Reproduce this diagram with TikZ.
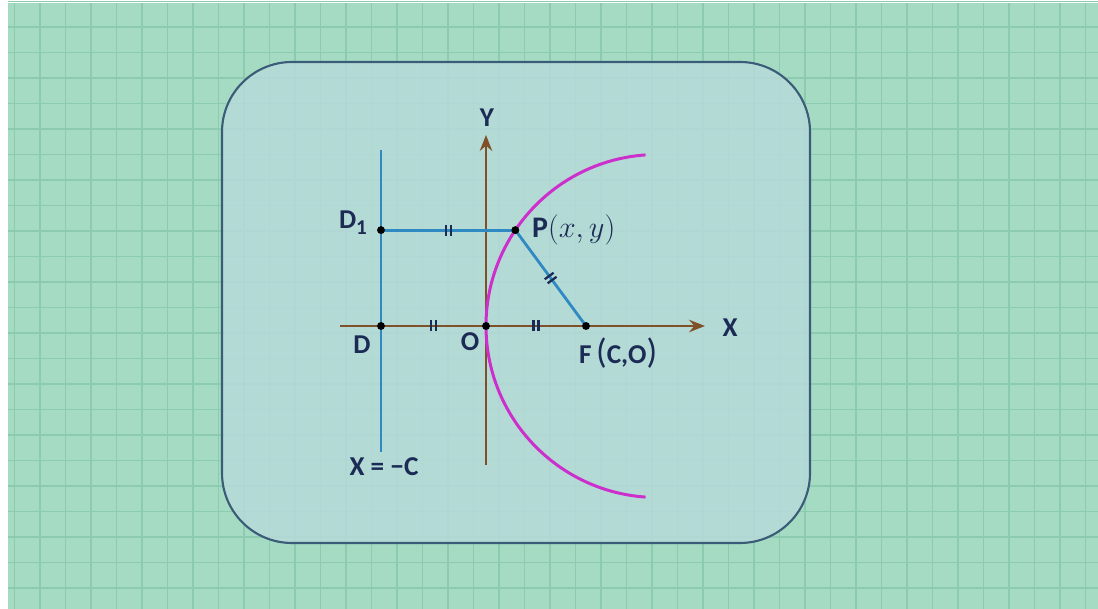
\documentclass[tikz,border=0pt]{standalone}
\usepackage{fontspec}
\setmainfont{Carlito}
\usetikzlibrary{arrows.meta,decorations.markings,calc}
\definecolor{bggreen}{HTML}{A5DAC3}
\definecolor{gridgreen}{HTML}{8CCBB0}
\definecolor{boxfill}{HTML}{B8DADB}
\definecolor{boxline}{HTML}{3A5C78}
\definecolor{axisbrown}{HTML}{7F5029}
\definecolor{lineblue}{HTML}{2F8AC4}
\definecolor{curvepink}{HTML}{CC2FCC}
\definecolor{labelnavy}{HTML}{1C2B55}
\newcommand{\bigparen}[1]{{\fontsize{20}{20}\selectfont\mdseries #1}}
\begin{document}
\begin{tikzpicture}[
    gridline/.style={gridgreen, line width=0.6pt},
    axis/.style={axisbrown, line width=1.6pt, -{Stealth[length=9pt, width=7pt]}},
    segment/.style={lineblue, line width=1.6pt},
    eqmark/.style={postaction={decorate, decoration={markings,
        mark=at position 0.5 with {\draw[labelnavy, line width=1.3pt]
        (-0.05,-0.11) -- (-0.05,0.11) (0.05,-0.11) -- (0.05,0.11);}}}},
    lbl/.style={text=labelnavy, font=\fontsize{15.5}{17}\selectfont\bfseries, inner sep=1pt},
    dot/.style={circle, fill=black, inner sep=0pt, minimum size=4.5pt}
]
\useasboundingbox (0,0) rectangle (21.96,12.18);
% background sheet
\fill[white] (0,0) rectangle (21.96,12.18);
\fill[bggreen] (0.16,0) rectangle (21.96,12.12);
\foreach \i in {0,...,42}
  \draw[gridline] ({0.29+0.51*\i},0) -- ({0.29+0.51*\i},12.12);
\foreach \j in {0,...,23}
  \draw[gridline] (0.16,{12.15-0.51*\j}) -- (21.96,{12.15-0.51*\j});
% frame
\draw[boxline, line width=1.2pt, fill=boxfill, fill opacity=0.82, rounded corners=1.4cm]
  (4.44,1.32) rectangle (16.2,10.94);
% points
\coordinate (O) at (9.72,5.66);
\coordinate (C) at (13.15,5.66);
\coordinate (P) at ($(C)+(146:3.43)$);
\coordinate (F) at (11.72,5.66);
\coordinate (D) at (7.62,5.66);
\coordinate (D1) at (7.62,0 |- P);
\coordinate (xl) at (6.8,5.66);
\coordinate (xr) at (14.1,5.66);
\coordinate (yb) at (9.72,2.88);
\coordinate (yt) at (9.72,9.48);
\coordinate (dt) at (7.62,9.18);
\coordinate (db) at (7.62,3.14);
% directrix and axes
\draw[segment] (db) -- (dt);
\draw[axis] (xl) -- (xr);
\draw[axis] (yb) -- (yt);
% parabola
\draw[curvepink, line width=1.7pt] ($(C)+(94:3.43)$) arc[start angle=94, end angle=266, radius=3.43];
% equal distances
\draw[segment, eqmark] (D1) -- (P);
\draw[segment, eqmark] (P) -- (F);
\path[eqmark] (D) -- (O);
\path[eqmark] (O) -- (F);
\foreach \p in {D1,P,D,O,F}
  \node[dot] at (\p) {};
% labels
\node[lbl] (ylabel) at (9.74,9.82) {Y};
\node[lbl] (xlabel) at (14.6,5.62) {X};
\node[lbl] (d1label) at (7.06,7.72) {D\raisebox{-0.45ex}{\fontsize{12}{12}\selectfont 1}};
\node[lbl, anchor=west, font=\fontsize{17}{19}\selectfont\bfseries] (plabel) at (10.6,7.58) {P$(x,y)$};
\node[lbl] (dlabel) at (7.24,5.28) {D};
\node[lbl] (olabel) at (9.4,5.34) {O};
\node[lbl, anchor=west] (flabel) at (11.54,5.12) {F\,\bigparen{(}C,O\bigparen{)}};
\node[lbl] (dirlabel) at (7.68,2.84) {X = −C};
\end{tikzpicture}
\end{document}
